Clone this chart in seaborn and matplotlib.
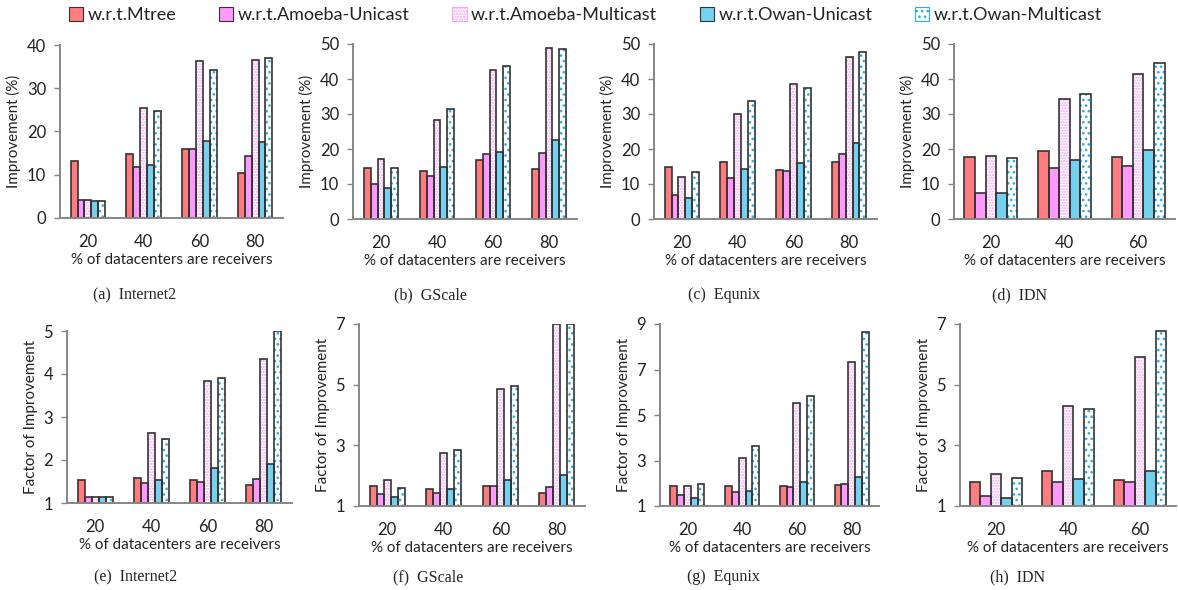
import matplotlib
matplotlib.use("Agg")
import matplotlib.pyplot as plt
import pandas as pd
import seaborn as sns
from matplotlib.patches import Patch

# ---- data -------------------------------------------------------------
series = ["w.r.t.Mtree", "w.r.t.Amoeba-Unicast", "w.r.t.Amoeba-Multicast",
          "w.r.t.Owan-Unicast", "w.r.t.Owan-Multicast"]
receivers4 = ["20", "40", "60", "80"]
receivers3 = ["20", "40", "60"]

# Improvement (%) -- rows follow `series`, columns follow receivers
internet2_pct = [[13.2, 14.9, 15.9, 10.4],
                 [4.1, 11.7, 16.0, 14.4],
                 [4.1, 25.4, 36.2, 36.6],
                 [4.0, 12.3, 17.8, 17.6],
                 [4.0, 24.8, 34.3, 37.1]]
gscale_pct = [[14.7, 13.8, 16.9, 14.2],
              [10.1, 12.3, 18.5, 19.0],
              [17.2, 28.3, 42.6, 48.8],
              [9.0, 15.0, 19.2, 22.6],
              [14.7, 31.3, 43.8, 48.5]]
equnix_pct = [[14.8, 16.4, 14.1, 16.2],
              [6.8, 11.6, 13.6, 18.7],
              [12.1, 29.9, 38.7, 46.4],
              [6.1, 14.2, 15.9, 21.6],
              [13.3, 33.7, 37.5, 47.7]]
idn_pct = [[17.7, 19.5, 17.7],
           [7.4, 14.5, 15.1],
           [18.1, 34.2, 41.4],
           [7.4, 17.0, 19.6],
           [17.3, 35.7, 44.5]]

# Factor of improvement
internet2_fac = [[1.54, 1.59, 1.53, 1.41],
                 [1.14, 1.46, 1.50, 1.56],
                 [1.14, 2.63, 3.84, 4.34],
                 [1.14, 1.53, 1.81, 1.91],
                 [1.14, 2.49, 3.91, 4.99]]
gscale_fac = [[1.66, 1.57, 1.66, 1.43],
              [1.38, 1.44, 1.66, 1.64],
              [1.85, 2.74, 4.85, 7.00],
              [1.30, 1.57, 1.86, 2.02],
              [1.58, 2.85, 4.96, 7.00]]
equnix_fac = [[1.89, 1.89, 1.89, 1.91],
              [1.47, 1.60, 1.85, 1.96],
              [1.86, 3.12, 5.54, 7.34],
              [1.34, 1.64, 2.04, 2.26],
              [1.95, 3.64, 5.85, 8.65]]
idn_fac = [[1.79, 2.15, 1.85],
           [1.34, 1.78, 1.80],
           [2.07, 4.30, 5.91],
           [1.28, 1.88, 2.15],
           [1.92, 4.21, 6.76]]

captions = ["(a)  Internet2", "(b)  GScale", "(c)  Equnix", "(d)  IDN",
            "(e)  Internet2", "(f)  GScale", "(g)  Equnix", "(h)  IDN"]

# ---- style ------------------------------------------------------------
sns.set_style("white")
plt.rcParams["font.family"] = ["Lato", "DejaVu Sans"]
plt.rcParams["hatch.linewidth"] = 1.1

fills = ["#FF7C80", "#FF99FF", "#FFFFFF", "#75D1F0", "#FFFFFF"]
hatches = [None, None, "......", None, "..."]
hatch_colors = [None, None, "#F6A6F6", None, "#2AB0E8"]
spine_gray = "#868686"
text_col = "#222222"
outline = "#333333"

W, H = 1178, 590
fig = plt.figure(figsize=(W / 100, H / 100), dpi=100)


def add_axes(l, r, t, b):
    return fig.add_axes([l / W, 1 - b / H, (r - l) / W, (b - t) / H])


def draw_panel(ax, values, cats, yticks, ylabel, width):
    rows = []
    for s, vals in zip(series, values):
        for c, v in zip(cats, vals):
            rows.append({"receivers": c, "series": s, "value": v})
    df = pd.DataFrame(rows)
    pal = dict(zip(series, fills))
    # filled / hatched layer
    sns.barplot(data=df, x="receivers", y="value", hue="series",
                hue_order=series, order=cats, palette=pal, saturation=1,
                width=width, errorbar=None, legend=False, ax=ax)
    for i, cont in enumerate(ax.containers):
        for bar in cont:
            bar.set_facecolor(fills[i])
            if hatches[i]:
                bar.set_hatch(hatches[i])
                bar.set_edgecolor(hatch_colors[i])
                bar.set_linewidth(0)
            else:
                bar.set_edgecolor("none")
    n_first = len(ax.containers)
    # dark outlines on top
    sns.barplot(data=df, x="receivers", y="value", hue="series",
                hue_order=series, order=cats, palette=pal, saturation=1,
                width=width, errorbar=None, legend=False, ax=ax)
    for cont in ax.containers[n_first:]:
        for bar in cont:
            bar.set_facecolor("none")
            bar.set_edgecolor(outline)
            bar.set_linewidth(1.2)

    ax.set_xlim(-0.5, len(cats) - 0.5)
    ax.set_ylim(yticks[0], yticks[-1])
    ax.set_yticks(yticks)
    ax.set_xlabel("% of datacenters are receivers", fontsize=10.9,
                  color=text_col, labelpad=2)
    ax.set_ylabel(ylabel, fontsize=10.9, color=text_col, labelpad=4)
    ax.tick_params(axis="y", which="both", left=True, length=4, width=1,
                   color=spine_gray, labelsize=12, labelcolor=text_col, pad=6)
    ax.tick_params(axis="x", bottom=False, labelsize=12,
                   labelcolor=text_col, pad=8)
    for side in ("top", "right"):
        ax.spines[side].set_visible(False)
    for side in ("left", "bottom"):
        ax.spines[side].set_color(spine_gray)
        ax.spines[side].set_linewidth(1.4)


top_boxes = [(60, 283, 45, 218), (353, 577, 44, 219),
             (654, 877, 44, 219), (954, 1175, 44, 219)]
bot_boxes = [(67, 292, 331, 503), (359, 585, 324, 506),
             (660, 879, 324, 506), (960, 1176, 324, 506)]

top_data = [(internet2_pct, receivers4, [0, 10, 20, 30, 40]),
            (gscale_pct, receivers4, [0, 10, 20, 30, 40, 50]),
            (equnix_pct, receivers4, [0, 10, 20, 30, 40, 50]),
            (idn_pct, receivers3, [0, 10, 20, 30, 40, 50])]
bot_data = [(internet2_fac, receivers4, [1, 2, 3, 4, 5]),
            (gscale_fac, receivers4, [1, 3, 5, 7]),
            (equnix_fac, receivers4, [1, 3, 5, 7, 9]),
            (idn_fac, receivers3, [1, 3, 5, 7])]

top_caption_x = [135, 430, 724, 1020]
bot_caption_x = [136, 428, 723, 1018]

for box, (vals, cats, ticks), cx, cap in zip(top_boxes, top_data,
                                             top_caption_x, captions[:4]):
    ax = add_axes(*box)
    draw_panel(ax, vals, cats, ticks, "Improvement (%)",
               0.62 if len(cats) == 4 else 0.72)
    fig.text(cx / W, 1 - 295 / H, cap, ha="center", va="center",
             family="Liberation Serif", fontsize=11.5, color=text_col)

for box, (vals, cats, ticks), cx, cap in zip(bot_boxes, bot_data,
                                             bot_caption_x, captions[4:]):
    ax = add_axes(*box)
    draw_panel(ax, vals, cats, ticks, "Factor of Improvement",
               0.62 if len(cats) == 4 else 0.72)
    fig.text(cx / W, 1 - 577 / H, cap, ha="center", va="center",
             family="Liberation Serif", fontsize=11.5, color=text_col)

# ---- shared legend ----------------------------------------------------
handles = []
for i, s in enumerate(series):
    handles.append(Patch(facecolor=fills[i],
                         edgecolor=hatch_colors[i] or "#333333",
                         hatch=hatches[i], linewidth=0.8, label=s))
fig.legend(handles=handles, loc="center", bbox_to_anchor=(0.497, 1 - 15 / H),
           ncol=5, frameon=False, fontsize=13, handlelength=0.8,
           handleheight=0.8, handletextpad=0.25, columnspacing=2.35,
           labelcolor=text_col)

fig.savefig("out.png", dpi=100)
